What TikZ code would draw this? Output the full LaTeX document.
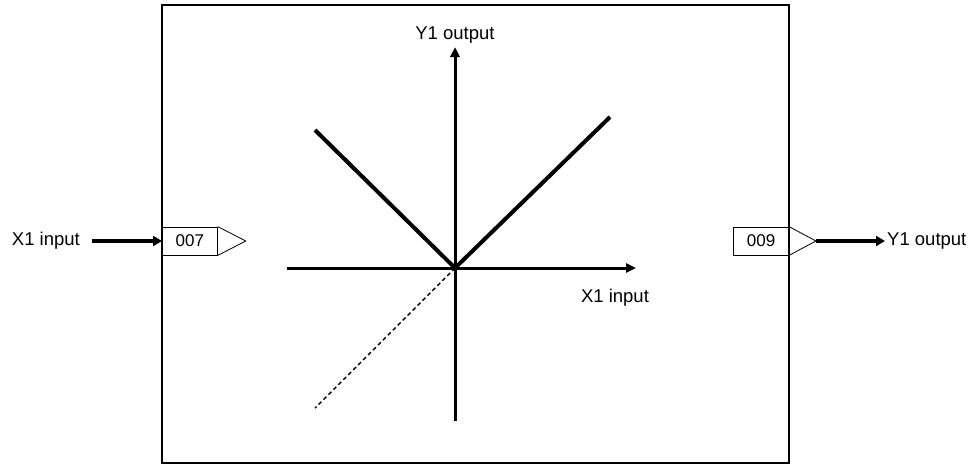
\documentclass[tikz,border=0pt]{standalone}
\usepackage{fontspec}
\setmainfont{Liberation Sans}
\usetikzlibrary{positioning, arrows.meta}

\begin{document}
\begin{tikzpicture}[
    x=1pt, y=-1pt,
    font=\fontsize{18.5}{22}\selectfont,
    frame/.style={draw, line width=2pt},
    port/.style={rectangle, draw, line width=0.8pt, minimum width=55pt, minimum height=28pt, inner sep=0pt, font=\fontsize{17}{20}\selectfont},
    portarrow/.style={draw, line width=0.8pt, line join=miter},
    signal/.style={-{Triangle[length=9pt,width=10pt]}, line width=4.5pt},
    axis/.style={-{Triangle[length=10pt,width=9pt]}, line width=3pt},
    curve/.style={line width=4pt},
    label/.style={draw=none, inner sep=2pt}
]
\useasboundingbox (0,0) rectangle (977,464);

% Block frame
\draw[frame] (162,5) rectangle (789,463);

% Ports
\node[port, anchor=west] (in007) at (162,241) {007};
\coordinate (in007tip) at ([xshift=28pt]in007.east);
\draw[portarrow] (in007.north east) -- (in007tip) -- (in007.south east);

\node[port, anchor=east] (out009) at (789,241) {009};
\coordinate (out009tip) at ([xshift=27pt]out009.east);
\draw[portarrow] (out009.north east) -- (out009tip) -- (out009.south east);

% Signals
\node[label, anchor=east] (xin) at (82,241) {X1 input};
\draw[signal] ([xshift=10pt]xin.east) -- (in007.west);

\node[label, anchor=west] (yout) at (885,241) {Y1 output};
\draw[signal] (out009tip) -- (yout.west);

% Axes
\coordinate (o) at (455,268);
\coordinate (xl) at (287,268);
\coordinate (xr) at (636,268);
\coordinate (yb) at (455,421);
\coordinate (yt) at (455,47);
\draw[axis] (xl) -- (xr);
\draw[axis] (yb) -- (yt);
\node[label, above=1pt of yt] (ylab) {Y1 output};
\node[label] (xlab) at (615,298) {X1 input};

% Characteristic
\coordinate (ul) at (315,130);
\coordinate (ur) at (610,117);
\coordinate (ll) at (315,408);
\draw[curve, line join=round] (ul) -- (o) -- (ur);
\draw[line width=1.4pt, dash pattern=on 4pt off 3pt] (o) -- (ll);

\end{tikzpicture}
\end{document}
